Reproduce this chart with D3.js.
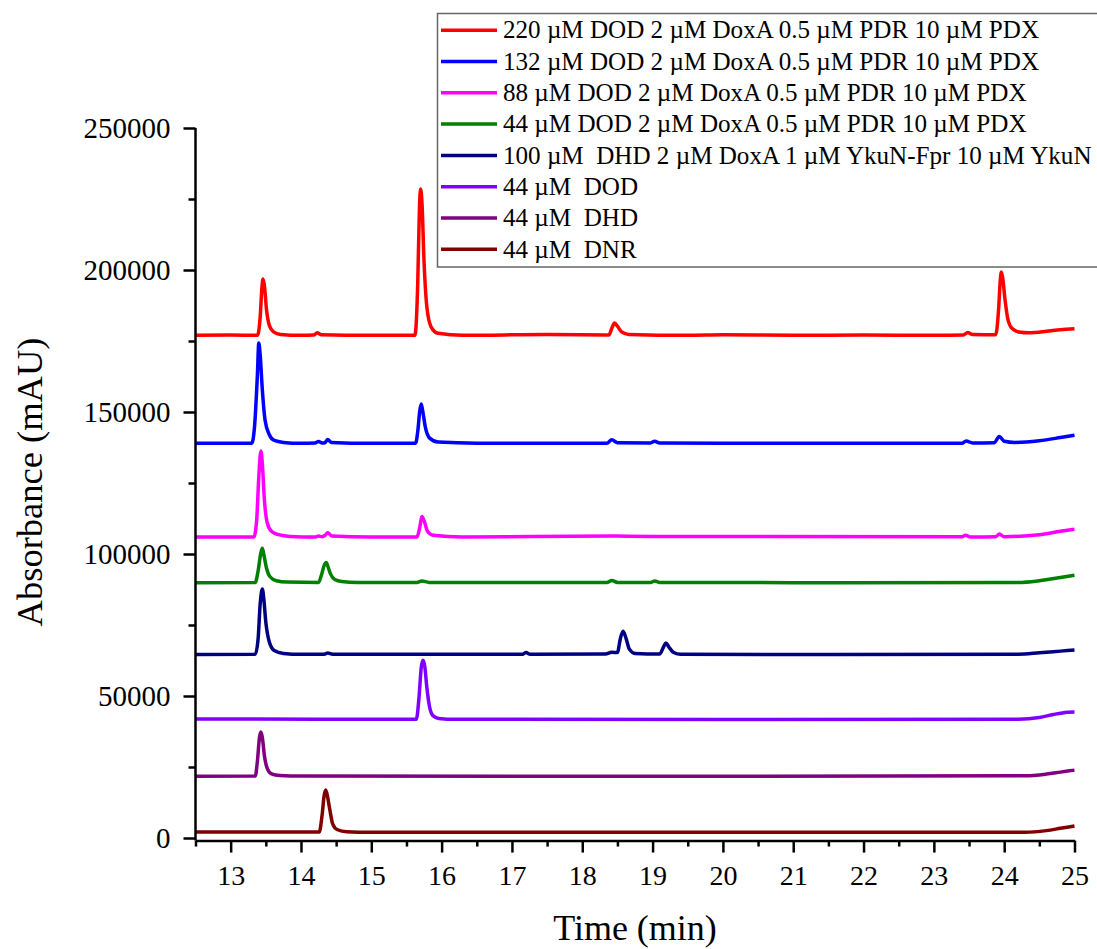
<!DOCTYPE html>
<html>
<head>
<meta charset="utf-8">
<script src="https://cdn.jsdelivr.net/npm/d3@7"></script>
<style>
  html, body { margin: 0; padding: 0; background: #fff; }
  svg { display: block; }
  svg text { font-family: "Liberation Serif", "Times New Roman", serif; fill: #000; }
  .legend text { white-space: pre; }
</style>
</head>
<body>
<svg id="chart" width="1097" height="949"></svg>
<script>
// HPLC traces: [retention time (min), absorbance (mAU)]
const dod220 = [[12.5,177000],[13.0,177100],[13.38,177000],[13.42,183500],[13.445,194000],[13.46,196800],[13.48,194500],[13.51,186000],[13.55,180500],[13.61,178200],[13.71,177300],[14.0,177000],[14.18,177100],[14.23,177900],[14.29,177200],[15.0,177000],[15.62,177000],[15.66,195000],[15.685,222000],[15.70,228500],[15.72,224000],[15.75,203000],[15.79,187000],[15.85,180000],[15.95,177700],[16.3,177000],[17.5,177300],[18.38,177100],[18.42,179500],[18.46,181300],[18.5,180200],[18.56,178200],[18.66,177300],[19.5,177000],[20.0,177200],[21.0,177000],[22.0,177100],[23.0,177000],[23.42,177100],[23.48,178000],[23.55,177300],[23.88,177200],[23.92,186000],[23.945,196500],[23.96,199300],[23.98,197000],[24.01,190000],[24.05,183000],[24.11,179500],[24.21,178200],[24.35,177900],[24.6,178400],[24.8,179000],[25.0,179300]];
const dod132 = [[12.5,139000],[13.3,139000],[13.34,145000],[13.38,163000],[13.40,174300],[13.42,170000],[13.45,158000],[13.49,147000],[13.55,142000],[13.62,140000],[13.75,139300],[14.0,139000],[14.2,139100],[14.25,139600],[14.3,139100],[14.34,139200],[14.38,140300],[14.43,139300],[15.0,139000],[15.63,139000],[15.66,143000],[15.69,150500],[15.71,152800],[15.73,150500],[15.77,144500],[15.83,140800],[15.95,139400],[16.5,139000],[18.35,139000],[18.42,140200],[18.5,139200],[18.97,139100],[19.03,139700],[19.1,139100],[20.0,139000],[23.4,139000],[23.46,139800],[23.55,139100],[23.86,139200],[23.93,141400],[24.0,139700],[24.15,139300],[24.5,139900],[24.8,141000],[25.0,141800]];
const dod88 = [[12.5,106000],[13.33,106000],[13.37,112000],[13.40,127000],[13.43,136300],[13.45,132000],[13.48,119000],[13.52,111000],[13.58,108000],[13.68,106800],[13.85,106200],[14.2,106000],[14.25,106300],[14.3,106100],[14.34,106500],[14.38,107500],[14.44,106300],[15.0,106000],[15.65,106000],[15.69,109500],[15.72,113200],[15.75,111800],[15.8,108000],[15.88,106600],[16.3,106000],[18.42,106300],[19.0,106200],[23.4,106100],[23.45,106600],[23.52,106000],[23.88,106100],[23.93,107000],[24.0,106100],[24.5,106800],[24.8,108000],[25.0,108700]];
const dod44 = [[12.5,89900],[13.35,90000],[13.39,94000],[13.43,100500],[13.45,102000],[13.47,100000],[13.51,95000],[13.56,92000],[13.65,90600],[13.8,90100],[14.25,90000],[14.29,92500],[14.33,96000],[14.36,97000],[14.38,95800],[14.42,93000],[14.48,91000],[14.58,90300],[14.8,90000],[15.65,90000],[15.72,90500],[15.82,90000],[18.35,90000],[18.42,90700],[18.5,90000],[18.97,90000],[19.03,90500],[19.1,90000],[21.0,89900],[24.2,90000],[24.5,90600],[24.8,91700],[25.0,92500]];
const dhdYkuN100 = [[12.5,64600],[13.35,64700],[13.39,70000],[13.42,82500],[13.45,87700],[13.47,84500],[13.5,76000],[13.55,69000],[13.62,66000],[13.75,65000],[14.0,64700],[14.33,64700],[14.38,65100],[14.45,64700],[17.15,64700],[17.2,65300],[17.26,64700],[18.33,64800],[18.42,65400],[18.5,65300],[18.54,70000],[18.58,72800],[18.62,70500],[18.67,66500],[18.75,65000],[19.1,64800],[19.16,67500],[19.19,68700],[19.23,67300],[19.3,65300],[19.4,64700],[21.0,64600],[24.2,64700],[24.5,65200],[24.8,65800],[25.0,66200]];
const dodOnly44 = [[12.5,41900],[15.64,41800],[15.68,50000],[15.71,60000],[15.735,62600],[15.76,60500],[15.79,53000],[15.83,46000],[15.88,43000],[15.96,42100],[16.2,41800],[20.0,41700],[24.2,41800],[24.5,42400],[24.7,43500],[24.9,44300],[25.0,44400]];
const dhdOnly44 = [[12.5,21700],[13.35,21800],[13.38,27000],[13.41,35500],[13.43,37300],[13.45,35500],[13.48,29000],[13.52,24500],[13.58,22600],[13.7,22000],[14.0,21800],[20.0,21700],[24.3,21900],[24.6,22500],[24.8,23200],[25.0,23900]];
const dnrOnly44 = [[12.5,2100],[14.26,2100],[14.3,8000],[14.33,15000],[14.35,16900],[14.37,15500],[14.41,10000],[14.45,5000],[14.52,2900],[14.65,2200],[15.0,2000],[20.0,2000],[24.3,2000],[24.6,2600],[24.8,3400],[25.0,4200]];

const seriesLabels = [
  "220 µM DOD 2 µM DoxA 0.5 µM PDR 10 µM PDX",
  "132 µM DOD 2 µM DoxA 0.5 µM PDR 10 µM PDX",
  "88 µM DOD 2 µM DoxA 0.5 µM PDR 10 µM PDX",
  "44 µM DOD 2 µM DoxA 0.5 µM PDR 10 µM PDX",
  "100 µM  DHD 2 µM DoxA 1 µM YkuN-Fpr 10 µM YkuN",
  "44 µM  DOD",
  "44 µM  DHD",
  "44 µM  DNR"
];
const seriesValues = [dod220, dod132, dod88, dod44, dhdYkuN100, dodOnly44, dhdOnly44, dnrOnly44];
const seriesColors = ["#ff0000", "#0000ff", "#ff00ff", "#008000", "#000080", "#8000ff", "#800080", "#800000"];

const xTicks = [13, 14, 15, 16, 17, 18, 19, 20, 21, 22, 23, 24, 25];
const xMinorTicks = [12.5, 13.5, 14.5, 15.5, 16.5, 17.5, 18.5, 19.5, 20.5, 21.5, 22.5, 23.5, 24.5];
const yTicks = [0, 50000, 100000, 150000, 200000, 250000];
const yMinorTicks = [25000, 75000, 125000, 175000, 225000];

const svg = d3.select("#chart");
const x = d3.scaleLinear().domain([12.5, 25]).range([195.5, 1074.5]);
const y = d3.scaleLinear().domain([0, 250000]).range([838, 128]);
const yAxisBottom = y(-900);
const serif = '"Liberation Serif", "Times New Roman", serif';

// traces
const line = d3.line()
  .x(d => x(d[0]))
  .y(d => y(d[1]))
  .curve(d3.curveMonotoneX);

svg.append("g").attr("class", "traces")
  .selectAll("path")
  .data(seriesValues.slice().reverse())
  .join("path")
  .attr("d", line)
  .attr("fill", "none")
  .attr("stroke", (d, i) => seriesColors[seriesValues.length - 1 - i])
  .attr("stroke-width", 3.5)
  .attr("stroke-linejoin", "round");

// x axis
svg.append("g").attr("transform", `translate(0,${yAxisBottom})`)
  .call(d3.axisBottom(x).tickValues(xMinorTicks).tickSize(6).tickFormat(""))
  .call(g => g.select(".domain").remove());
const xMajor = svg.append("g").attr("transform", `translate(0,${yAxisBottom})`)
  .call(d3.axisBottom(x).tickValues(xTicks).tickSize(12).tickSizeOuter(0).tickPadding(13).tickFormat(d3.format("d")));
xMajor.attr("font-family", null).attr("font-size", null);
xMajor.select(".domain").attr("stroke-width", 2.5);
xMajor.selectAll("text")
  .style("font-family", serif)
  .style("font-size", "28px");

// y axis
svg.append("g").attr("transform", "translate(195.5,0)")
  .call(d3.axisLeft(y).tickValues(yMinorTicks).tickSize(7).tickFormat(""))
  .call(g => g.select(".domain").remove());
const yMajor = svg.append("g").attr("transform", "translate(195.5,0)")
  .call(d3.axisLeft(y).tickValues(yTicks).tickSize(12).tickSizeOuter(0).tickPadding(13).tickFormat(d3.format("d")));
yMajor.attr("font-family", null).attr("font-size", null);
yMajor.select(".domain").attr("d", `M0,${y(250000)}V${yAxisBottom}`).attr("stroke-width", 2.5);
yMajor.selectAll("text")
  .style("font-family", serif)
  .style("font-size", "29px");
svg.selectAll("g.tick line").attr("stroke-width", 2.5);

// axis titles
svg.append("text")
  .attr("x", (x.range()[0] + x.range()[1]) / 2)
  .attr("y", 940)
  .attr("text-anchor", "middle")
  .style("font-size", "36px")
  .text("Time (min)");

svg.append("text")
  .attr("transform", "translate(42,482) rotate(-90)")
  .attr("text-anchor", "middle")
  .style("font-size", "36.5px")
  .text("Absorbance (mAU)");

// legend
const legend = svg.append("g").attr("class", "legend");
legend.append("rect")
  .attr("x", 437.5).attr("y", 13.5)
  .attr("width", 700).attr("height", 253.5)
  .attr("fill", "#fff")
  .attr("stroke", "#666")
  .attr("stroke-width", 1.5);

const rowStep = 31.3;
const rows = legend.selectAll("g.row")
  .data(seriesLabels)
  .join("g")
  .attr("class", "row")
  .attr("transform", (d, i) => `translate(0,${30.2 + i * rowStep})`);
rows.append("line")
  .attr("x1", 441).attr("x2", 497)
  .attr("stroke", (d, i) => seriesColors[i])
  .attr("stroke-width", 3.5);
rows.append("text")
  .attr("x", 503)
  .attr("dy", "0.33em")
  .style("font-size", "25.1px")
  .text(d => d);
</script>
</body>
</html>
